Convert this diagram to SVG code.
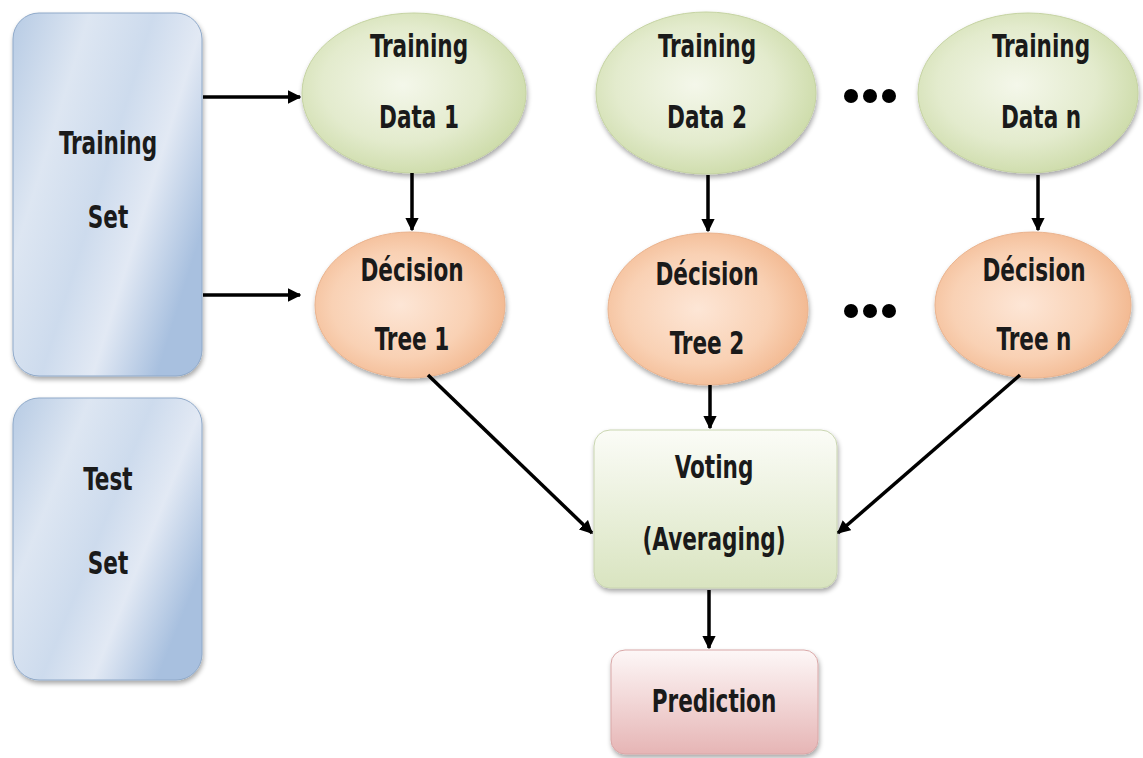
<svg xmlns="http://www.w3.org/2000/svg" width="1143" height="758" viewBox="0 0 1143 758">
  <defs>
    <linearGradient id="gBlue" x1="0" y1="0" x2="1" y2="0.6">
      <stop offset="0" stop-color="#b7cbe4"/>
      <stop offset="0.3" stop-color="#dde6f2"/>
      <stop offset="0.55" stop-color="#cddbed"/>
      <stop offset="0.75" stop-color="#e2e9f4"/>
      <stop offset="1" stop-color="#a8c0df"/>
    </linearGradient>
    <radialGradient id="gGreen" cx="0.45" cy="0.45" r="0.6">
      <stop offset="0" stop-color="#f4f7ea"/>
      <stop offset="0.6" stop-color="#e3ebcd"/>
      <stop offset="1" stop-color="#cbdaa6"/>
    </radialGradient>
    <radialGradient id="gOrange" cx="0.45" cy="0.5" r="0.6">
      <stop offset="0" stop-color="#fde6d6"/>
      <stop offset="0.6" stop-color="#f9d1b4"/>
      <stop offset="1" stop-color="#f1b48a"/>
    </radialGradient>
    <linearGradient id="gVote" x1="0" y1="0" x2="0" y2="1">
      <stop offset="0" stop-color="#fbfcf7"/>
      <stop offset="1" stop-color="#d9e4c0"/>
    </linearGradient>
    <linearGradient id="gPred" x1="0" y1="0" x2="0" y2="1">
      <stop offset="0" stop-color="#fdf7f7"/>
      <stop offset="1" stop-color="#e6b5b5"/>
    </linearGradient>
    <filter id="shadow" x="-10%" y="-10%" width="120%" height="125%">
      <feGaussianBlur in="SourceAlpha" stdDeviation="2.5"/>
      <feOffset dx="1" dy="3" result="b"/>
      <feComponentTransfer><feFuncA type="linear" slope="0.35"/></feComponentTransfer>
      <feMerge><feMergeNode/><feMergeNode in="SourceGraphic"/></feMerge>
    </filter>
    <marker id="arrow" viewBox="0 0 10 10" refX="9" refY="5" markerWidth="3.8" markerHeight="3.8" orient="auto" markerUnits="strokeWidth">
      <path d="M0,0 L10,5 L0,10 z" fill="#000"/>
    </marker>
  </defs>
  <style>
    text { font-family: "DejaVu Sans Condensed", "DejaVu Sans", sans-serif; font-stretch: condensed; font-weight: bold; font-size: 32px; fill: #1a1a1a; text-anchor: middle; }
    .set { fill: url(#gBlue); stroke: #8fa9c9; stroke-width: 1; filter: url(#shadow); }
    .data { fill: url(#gGreen); stroke: #c5d3a2; stroke-width: 1; filter: url(#shadow); }
    .tree { fill: url(#gOrange); stroke: #eab38e; stroke-width: 1; filter: url(#shadow); }
    .conn line { stroke: #000; stroke-width: 3.5; marker-end: url(#arrow); }
    .dots circle { fill: #000; }
  </style>

  <rect width="1143" height="758" fill="#ffffff"/>

  <g id="training-set">
    <rect class="set" x="13" y="13" width="189" height="363" rx="26"/>
    <text transform="translate(108 154) scale(0.75 1)">Training</text>
    <text transform="translate(108 228) scale(0.75 1)">Set</text>
  </g>
  <g id="test-set">
    <rect class="set" x="13" y="398" width="189" height="282" rx="26"/>
    <text transform="translate(108 490) scale(0.75 1)">Test</text>
    <text transform="translate(108 574) scale(0.75 1)">Set</text>
  </g>

  <g id="training-data-1">
    <ellipse class="data" cx="414" cy="93" rx="112" ry="80"/>
    <text transform="translate(419 57) scale(0.75 1)">Training</text>
    <text transform="translate(419 128) scale(0.75 1)">Data 1</text>
  </g>
  <g id="training-data-2">
    <ellipse class="data" cx="706" cy="93" rx="110" ry="81"/>
    <text transform="translate(707 57) scale(0.75 1)">Training</text>
    <text transform="translate(707 128) scale(0.75 1)">Data 2</text>
  </g>
  <g id="training-data-n">
    <ellipse class="data" cx="1028" cy="93" rx="110" ry="80"/>
    <text transform="translate(1041 57) scale(0.75 1)">Training</text>
    <text transform="translate(1041 128) scale(0.75 1)">Data n</text>
  </g>

  <g id="decision-tree-1">
    <ellipse class="tree" cx="410" cy="305" rx="95" ry="73"/>
    <text transform="translate(412 281) scale(0.75 1)">Décision</text>
    <text transform="translate(412 350) scale(0.75 1)">Tree 1</text>
  </g>
  <g id="decision-tree-2">
    <ellipse class="tree" cx="708" cy="309" rx="100" ry="76"/>
    <text transform="translate(707 285) scale(0.75 1)">Décision</text>
    <text transform="translate(707 354) scale(0.75 1)">Tree 2</text>
  </g>
  <g id="decision-tree-n">
    <ellipse class="tree" cx="1033" cy="305" rx="98" ry="73"/>
    <text transform="translate(1034 281) scale(0.75 1)">Décision</text>
    <text transform="translate(1034 350) scale(0.75 1)">Tree n</text>
  </g>

  <g id="voting">
    <rect x="594" y="430" width="243" height="158" rx="16" fill="url(#gVote)" stroke="#c9d5b0" stroke-width="1" filter="url(#shadow)"/>
    <text transform="translate(714 478) scale(0.75 1)">Voting</text>
    <text transform="translate(714 550) scale(0.75 1)">(Averaging)</text>
  </g>
  <g id="prediction">
    <rect x="611" y="650" width="207" height="104" rx="14" fill="url(#gPred)" stroke="#d9a7a7" stroke-width="1" filter="url(#shadow)"/>
    <text transform="translate(714 712) scale(0.75 1)">Prediction</text>
  </g>

  <g id="ellipsis" class="dots">
    <circle cx="851" cy="96" r="7"/>
    <circle cx="870" cy="96" r="7"/>
    <circle cx="889" cy="96" r="7"/>
    <circle cx="851" cy="311" r="7"/>
    <circle cx="870" cy="311" r="7"/>
    <circle cx="889" cy="311" r="7"/>
  </g>

  <g id="connectors" class="conn">
    <line x1="203" y1="97" x2="300" y2="97"/>
    <line x1="203" y1="295" x2="300" y2="295"/>
    <line x1="412" y1="173" x2="412" y2="230"/>
    <line x1="708" y1="175" x2="708" y2="231"/>
    <line x1="1038" y1="175" x2="1038" y2="230"/>
    <line x1="428" y1="375" x2="592" y2="533"/>
    <line x1="710" y1="385" x2="710" y2="428"/>
    <line x1="1020" y1="375" x2="838" y2="533"/>
    <line x1="709" y1="590" x2="709" y2="648"/>
  </g>
</svg>
